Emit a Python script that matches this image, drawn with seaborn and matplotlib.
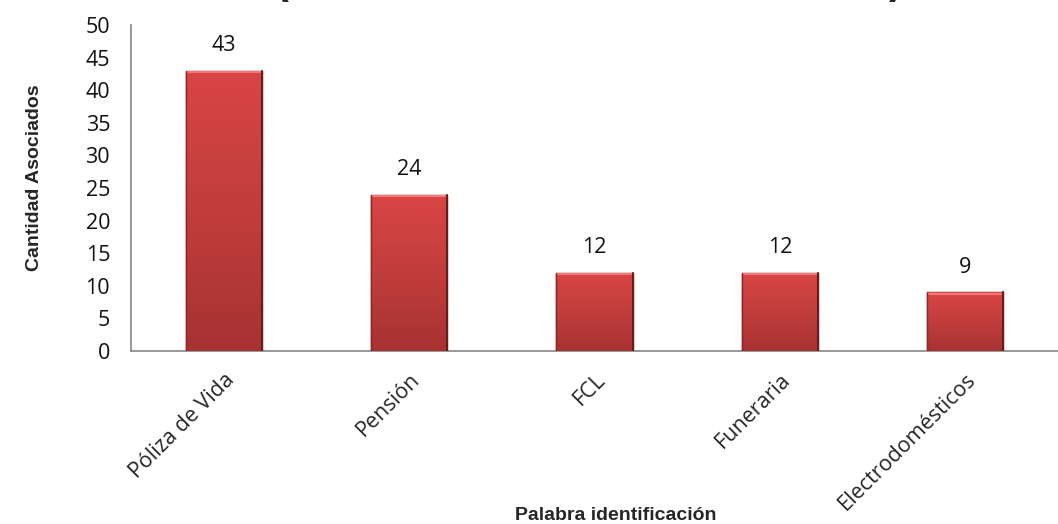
import numpy as np
import pandas as pd
import matplotlib
matplotlib.use("Agg")
import matplotlib.pyplot as plt
import seaborn as sns
from matplotlib.colors import LinearSegmentedColormap

categorias = ["Póliza de Vida", "Pensión", "FCL", "Funeraria", "Electrodomésticos"]
asociados = [43, 24, 12, 12, 9]
y_ticks = [0, 5, 10, 15, 20, 25, 30, 35, 40, 45, 50]

df = pd.DataFrame({"Palabra": categorias, "Asociados": asociados})

sns.set_theme(style="white")
plt.rcParams["font.family"] = ["Open Sans", "DejaVu Sans"]

fig = plt.figure(figsize=(10.58, 5.24), dpi=100)
ax = fig.add_axes([131 / 1058, 1 - 351 / 524, (1058 - 131) / 1058, (351 - 25) / 524])

sns.barplot(data=df, x="Palabra", y="Asociados", ax=ax, color="#c83c3c",
            width=0.41, edgecolor="#7a1f1f", linewidth=1.0, zorder=3)

# vertical red gradient inside each bar, with a light top edge and darker sides
grad = LinearSegmentedColormap.from_list("rojo", ["#a73232", "#c23d3d", "#d94545"])
for p in ax.patches:
    x0, w, h = p.get_x(), p.get_width(), p.get_height()
    img = ax.imshow(np.linspace(0, 1, 256).reshape(-1, 1), cmap=grad, origin="lower",
                    extent=[x0, x0 + w, 0, h], aspect="auto", zorder=3.5)
    img.set_clip_path(p)
    ax.plot([x0, x0 + w], [h - 0.25, h - 0.25], color="#ee7a7a", lw=1.5,
            zorder=3.6, solid_capstyle="butt")
    ax.plot([x0 + w, x0 + w], [0, h], color="#6e1a1a", lw=1.5, zorder=3.6)
    ax.plot([x0, x0], [0, h], color="#8a2626", lw=1.0, zorder=3.6)

for i, v in enumerate(asociados):
    ax.text(i, v + 2.2, str(v), ha="center", va="bottom", fontsize=15.5, color="#111111")

ax.set_xlim(-0.5, len(categorias) - 0.5)
ax.set_ylim(0, 50)
ax.set_yticks(y_ticks)
ax.set_yticklabels([str(t) for t in y_ticks], fontsize=15.5)

# ticks at category boundaries, labels at category centres
ax.set_xticks(np.arange(-0.5, len(categorias), 1.0))
ax.set_xticklabels([])
ax.set_xticks(np.arange(len(categorias)), minor=True)
ax.set_xticklabels(categorias, minor=True, rotation=45, ha="right",
                   rotation_mode="anchor", fontsize=15.5)
ax.tick_params(axis="x", which="minor", length=0, pad=13)
ax.tick_params(axis="x", which="major", length=8, width=1, color="#868686", direction="out")
ax.tick_params(axis="y", length=7, width=1, color="#868686", direction="out", pad=8)
ax.tick_params(axis="both", labelcolor="#111111")

for s in ["top", "right"]:
    ax.spines[s].set_visible(False)
for s in ["left", "bottom"]:
    ax.spines[s].set_color("#868686")
    ax.spines[s].set_linewidth(1.2)

ax.set_xlabel("")
ax.set_ylabel("")
fig.text(616 / 1058, 1 - 515 / 524, "Palabra identificación", ha="center", va="center",
         fontsize=14, fontweight="bold", family=["Liberation Sans", "DejaVu Sans"])
fig.text(35 / 1058, 1 - 178 / 524, "Cantidad Asociados", ha="center", va="center",
         rotation=90, fontsize=14, fontweight="bold", family=["Liberation Sans", "DejaVu Sans"])

# title glyphs running off the top edge
fig.text(282 / 1058, 1 - 2 / 524, "(", ha="center", va="bottom", fontsize=30,
         fontweight="bold", family=["Liberation Sans", "DejaVu Sans"])
fig.text(896 / 1058, 1 - 2 / 524, ")", ha="center", va="bottom", fontsize=30,
         fontweight="bold", family=["Liberation Sans", "DejaVu Sans"])

fig.savefig("out.png", dpi=100)
